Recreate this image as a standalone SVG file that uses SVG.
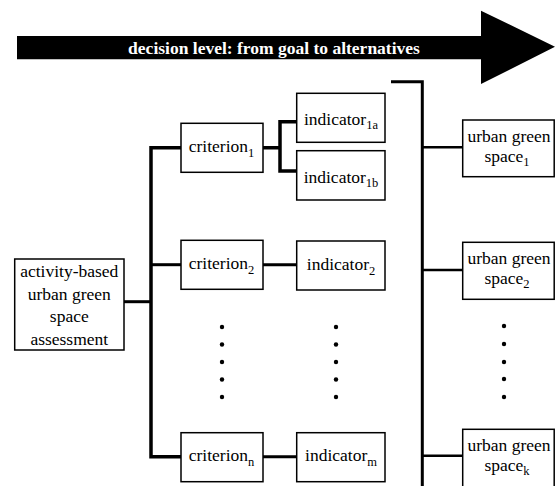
<svg xmlns="http://www.w3.org/2000/svg" width="555" height="486" viewBox="0 0 555 486">
<style>
.box{fill:#fff;stroke:#000;stroke-width:1.5}
text{font-family:"Liberation Serif","Times New Roman",Times,"DejaVu Serif","Noto Serif",serif}
.t{font-size:17.5px;fill:#000;text-anchor:middle}
.sub{font-size:12.5px}
.c{fill:none;stroke:#000;stroke-width:3;stroke-linecap:butt;stroke-linejoin:miter}
.bus{stroke-width:3.5}
.thin{stroke-width:2.5}
.dot{fill:#000}
</style>
<rect width="555" height="486" fill="#fff"/>
<g id="arrow">
<polygon points="17,36 481,36 481,10.7 555,46.7 481,84 481,59.3 17,59.3" fill="#000"/>
<text x="274" y="53.5" class="t" font-family="Liberation Serif" font-weight="bold" style="fill:#fff">decision level: from goal to alternatives</text>
</g>
<g id="connectors">
<path class="c" d="M124,301.7 H151"/>
<path class="c bus" d="M182,147.8 H151 V456.7 H182"/>
<path class="c" d="M151,264.7 H182"/>
<path class="c bus" d="M263,147.8 H280 M297,121.7 H280 V171 H297"/>
<path class="c" d="M263,264.7 H297"/>
<path class="c" d="M263,456.7 H297"/>
<path class="c" d="M391,81.7 H422.3 V486"/>
<path class="c thin" d="M422.3,147.3 H463 M422.3,270 H463 M422.3,455.7 H463"/>
</g>
<g id="goal">
<rect class="box" x="14.7" y="259" width="109.3" height="91"/>
<text class="t" x="69.3" y="277">activity-based</text>
<text class="t" x="69.3" y="299.5">urban green</text>
<text class="t" x="69.3" y="322">space</text>
<text class="t" x="69.3" y="344.5">assessment</text>
</g>
<g id="criterion1">
<rect class="box" x="181" y="123.3" width="82" height="49"/>
<text class="t" x="221.5" y="151.7">criterion<tspan class="sub" dy="5">1</tspan></text>
</g>
<g id="criterion2">
<rect class="box" x="181" y="240.3" width="82" height="49"/>
<text class="t" x="221.5" y="268.7">criterion<tspan class="sub" dy="5">2</tspan></text>
</g>
<g id="criterionn">
<rect class="box" x="181" y="432.7" width="82" height="49"/>
<text class="t" x="221.5" y="461">criterion<tspan class="sub" dy="5">n</tspan></text>
</g>
<g id="indicator1a">
<rect class="box" x="296.7" y="93.3" width="88.3" height="49"/>
<text class="t" x="341" y="125">indicator<tspan class="sub" dy="4">1a</tspan></text>
</g>
<g id="indicator1b">
<rect class="box" x="296.7" y="150.7" width="88.3" height="49.3"/>
<text class="t" x="341" y="182.5">indicator<tspan class="sub" dy="4">1b</tspan></text>
</g>
<g id="indicator2">
<rect class="box" x="296.7" y="241" width="88.3" height="49"/>
<text class="t" x="341" y="269.5">indicator<tspan class="sub" dy="5">2</tspan></text>
</g>
<g id="indicatorm">
<rect class="box" x="296.7" y="432.7" width="88.3" height="49"/>
<text class="t" x="341" y="461">indicator<tspan class="sub" dy="5">m</tspan></text>
</g>
<g id="ugs1">
<rect class="box" x="462.7" y="120" width="91.5" height="56.7"/>
<text class="t" x="509" y="141.7">urban green</text>
<text class="t" x="507" y="161.7">space<tspan class="sub" dy="4">1</tspan></text>
</g>
<g id="ugs2">
<rect class="box" x="462.7" y="242.3" width="91.5" height="57"/>
<text class="t" x="509" y="264">urban green</text>
<text class="t" x="507" y="284">space<tspan class="sub" dy="4">2</tspan></text>
</g>
<g id="ugsk">
<rect class="box" x="462.7" y="429.3" width="91.5" height="57.5"/>
<text class="t" x="509" y="451">urban green</text>
<text class="t" x="507" y="471">space<tspan class="sub" dy="4">k</tspan></text>
</g>
<g id="ellipses">
<circle class="dot" cx="222" cy="327" r="2.2"/><circle class="dot" cx="222" cy="344.5" r="2.2"/><circle class="dot" cx="222" cy="362" r="2.2"/><circle class="dot" cx="222" cy="379.5" r="2.2"/><circle class="dot" cx="222" cy="397" r="2.2"/>
<circle class="dot" cx="336" cy="327" r="2.2"/><circle class="dot" cx="336" cy="344.5" r="2.2"/><circle class="dot" cx="336" cy="362" r="2.2"/><circle class="dot" cx="336" cy="379.5" r="2.2"/><circle class="dot" cx="336" cy="397" r="2.2"/>
<circle class="dot" cx="504" cy="326" r="2.2"/><circle class="dot" cx="504" cy="344" r="2.2"/><circle class="dot" cx="504" cy="362" r="2.2"/><circle class="dot" cx="504" cy="379" r="2.2"/><circle class="dot" cx="504" cy="397" r="2.2"/>
</g>
</svg>
